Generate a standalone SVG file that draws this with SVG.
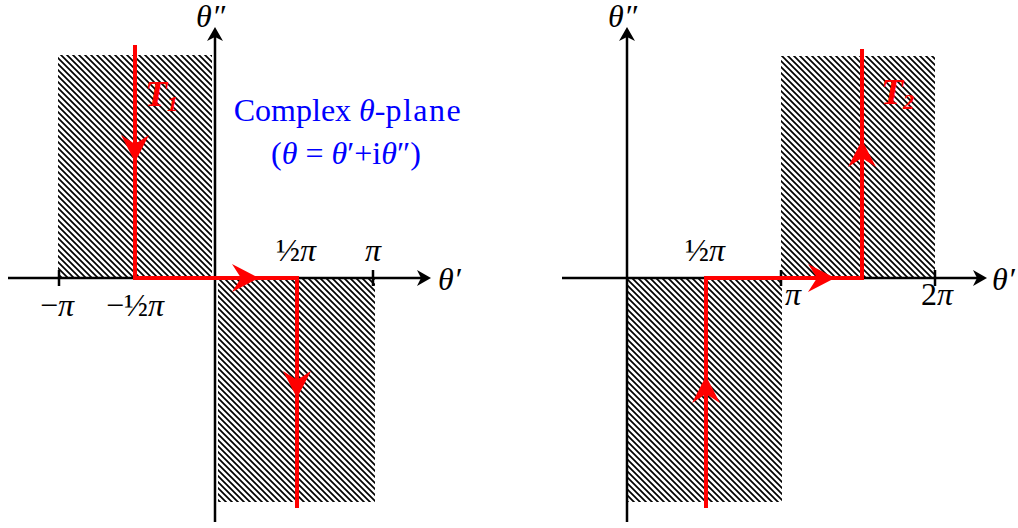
<svg xmlns="http://www.w3.org/2000/svg" width="1018" height="528" viewBox="0 0 1018 528">
<style>
.ax{stroke:#000;stroke-width:2.5;fill:none}
.tk{stroke:#000;stroke-width:2.5}
.rp{stroke:#ff0000;stroke-width:4;fill:none;stroke-linejoin:miter}
.lb{font-family:"Liberation Serif",serif;font-size:32px;fill:#000}
.it{font-style:italic}
.tl{font-family:"Liberation Serif",serif;font-size:36px;font-style:italic;font-weight:bold;fill:#ff0000}
.bl{font-family:"Liberation Serif",serif;font-size:32px;fill:#0000ff}
.ah{fill:#000}
.rh{fill:#ff0000}
</style>
<defs>
<pattern id="hatch" patternUnits="userSpaceOnUse" width="6" height="6">
<path d="M0,0 L6,6 M-3,3 L3,9 M3,-3 L9,3" stroke="#000" stroke-width="1.7"/>
</pattern>
</defs>
<g id="hatching">
<rect x="58" y="55" width="154" height="223" fill="url(#hatch)"/>
<rect x="218" y="278" width="157" height="224" fill="url(#hatch)"/>
<rect x="628" y="278" width="154" height="224" fill="url(#hatch)"/>
<rect x="781" y="56" width="154" height="222" fill="url(#hatch)"/>
</g>
<g id="axes-left">
<line class="ax" x1="215" y1="522" x2="215" y2="36"/>
<path class="ah" d="M215,27 L223,41 L215,37 L207,41 Z"/>
<line class="ax" x1="8" y1="278" x2="422" y2="278"/>
<path class="ah" d="M431,278 L417,286 L421,278 L417,270 Z"/>
<line class="tk" x1="59" y1="270" x2="59" y2="286"/>
<line class="tk" x1="373" y1="270" x2="373" y2="286"/>
</g>
<g id="axes-right">
<line class="ax" x1="627" y1="522" x2="627" y2="36"/>
<path class="ah" d="M627,27 L635,41 L627,37 L619,41 Z"/>
<line class="ax" x1="562" y1="278" x2="978" y2="278"/>
<path class="ah" d="M987,278 L973,286 L977,278 L973,270 Z"/>
<line class="tk" x1="781" y1="270" x2="781" y2="286"/>
<line class="tk" x1="935" y1="270" x2="935" y2="286"/>
</g>
<g id="connectors">
<path class="rp" d="M135,45 L135,278 L297,278 L297,508"/>
<path class="rh" d="M135,162 L149,135 L135,144 L121,135 Z"/>
<path class="rh" d="M259,278 L232,264 L241,278 L232,292 Z"/>
<path class="rh" d="M297,398 L311,371 L297,380 L283,371 Z"/>
<path class="rp" d="M706,508 L706,278 L862,278 L862,49"/>
<path class="rh" d="M706,376 L720,403 L706,394 L692,403 Z"/>
<path class="rh" d="M835,278 L808,264 L817,278 L808,292 Z"/>
<path class="rh" d="M862,140 L876,167 L862,158 L848,167 Z"/>
</g>
<g id="labels-left">
<text class="lb it" x="196" y="27" font-size="30">θ″</text>
<text class="lb it" x="438" y="290">θ′</text>
<text class="lb" x="57" y="316" text-anchor="middle">−<tspan class="it">π</tspan></text>
<text class="lb" x="135" y="316" text-anchor="middle">−½<tspan class="it">π</tspan></text>
<text class="lb" x="296" y="261" text-anchor="middle">½<tspan class="it">π</tspan></text>
<text class="lb it" x="373" y="261" text-anchor="middle">π</text>
<text class="tl" x="145" y="106">T<tspan font-size="22" dy="5">1</tspan></text>
<text class="bl" x="348" y="121" text-anchor="middle">Complex <tspan class="it">θ</tspan>-<tspan letter-spacing="1.5">plane</tspan></text>
<text class="bl" x="346" y="164" text-anchor="middle">(<tspan class="it">θ</tspan> = <tspan class="it">θ</tspan>′+i<tspan class="it">θ</tspan>″)</text>
</g>
<g id="labels-right">
<text class="lb it" x="608" y="27" font-size="30">θ″</text>
<text class="lb it" x="992" y="290">θ′</text>
<text class="lb" x="705" y="261" text-anchor="middle">½<tspan class="it">π</tspan></text>
<text class="lb it" x="793" y="305" text-anchor="middle">π</text>
<text class="lb" x="937" y="305" text-anchor="middle">2<tspan class="it">π</tspan></text>
<text class="tl" x="881" y="104">T<tspan font-size="22" dy="5">2</tspan></text>
</g>
</svg>
